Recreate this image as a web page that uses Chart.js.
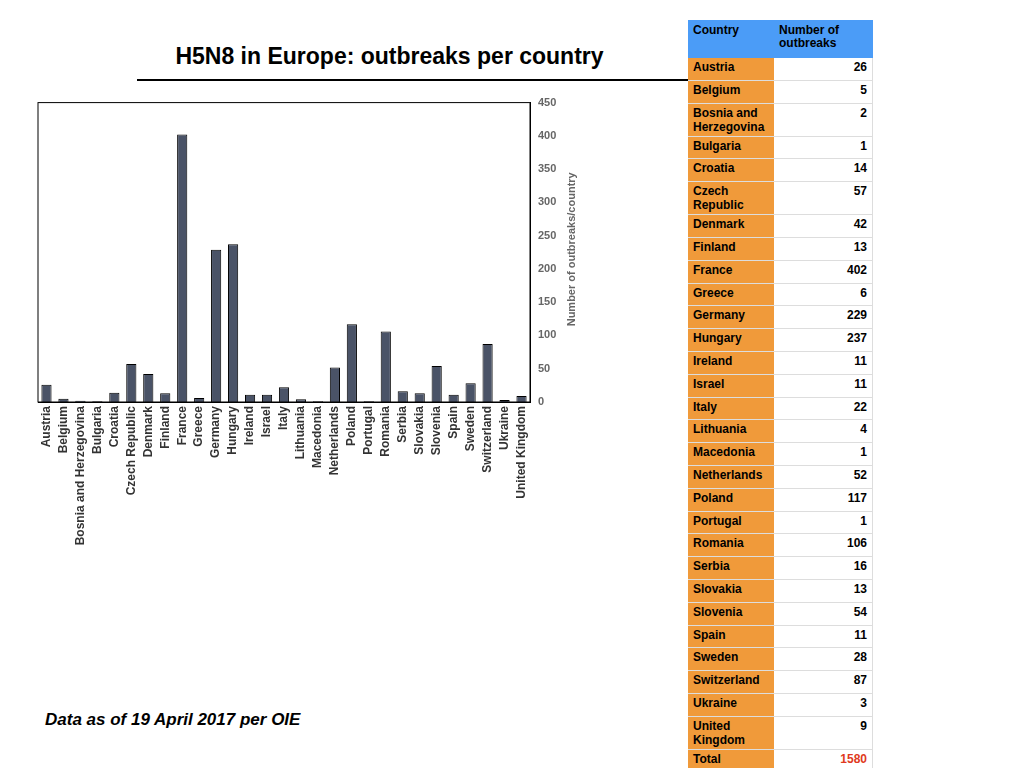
<!DOCTYPE html>
<html lang="en">
<head>
<meta charset="UTF-8">
<title>H5N8 in Europe</title>
<script src="https://cdn.jsdelivr.net/npm/chart.js"></script>
<style>
  body { margin: 0; width: 1024px; height: 768px; background: #fff; font-family: "Liberation Sans", Arial, sans-serif; position: relative; overflow: hidden; }
  h1 { position: absolute; left: 137px; width: 505px; top: 43px; margin: 0; font-size: 23px; text-align: center; }
  .rule { position: absolute; left: 137px; top: 79px; width: 555px; border-top: 2px solid #000; }
  .chart-box { position: absolute; left: 30px; top: 88px; width: 560px; height: 459px; }
  .note { position: absolute; left: 45px; top: 710px; font-size: 17px; font-weight: bold; font-style: italic; }
  table { position: absolute; left: 688px; top: 20px; border-collapse: collapse; font-size: 12px; font-weight: bold; }
  td { padding: 2px 5px; border-bottom: 1px solid #ddd; vertical-align: top; height: 17.8px; line-height: 14px; }
  td.c { background: #f09a3a; width: 76px; }
  td.v { width: 88px; text-align: right; border-right: 1px solid #ddd; }
  th { background: #4b9cf7; text-align: left; vertical-align: top; padding: 4px 5px; height: 30px; font-weight: bold; line-height: 13px; }
  .total { color: #e03a20; }
</style>
</head>
<body>
<h1>H5N8 in Europe: outbreaks per country</h1>
<div class="rule"></div>
<div class="chart-box"><canvas id="chart"></canvas></div>
<div class="note">Data as of 19 April 2017 per OIE</div>
<table id="tbl"></table>
<script>
const countries = ['Austria','Belgium','Bosnia and Herzegovina','Bulgaria','Croatia','Czech Republic','Denmark','Finland','France','Greece','Germany','Hungary','Ireland','Israel','Italy','Lithuania','Macedonia','Netherlands','Poland','Portugal','Romania','Serbia','Slovakia','Slovenia','Spain','Sweden','Switzerland','Ukraine','United Kingdom'];
const outbreaks = [26,5,2,1,14,57,42,13,402,6,229,237,11,11,22,4,1,52,117,1,106,16,13,54,11,28,87,3,9];
const yTitle = 'Number of outbreaks/country';

const tbl = document.getElementById('tbl');
let html = '<tr><th style="width:76px">Country</th><th>Number of<br>outbreaks</th></tr>';
countries.forEach((n, i) => {
  html += `<tr><td class="c">${n}</td><td class="v">${outbreaks[i]}</td></tr>`;
});
html += `<tr><td class="c">Total</td><td class="v total">${outbreaks.reduce((a, b) => a + b, 0)}</td></tr>`;
tbl.innerHTML = html;

const tickFont = { family: 'Liberation Sans', size: 12, weight: 'bold' };

new Chart(document.getElementById('chart'), {
  type: 'bar',
  data: {
    labels: countries,
    datasets: [{ data: outbreaks, backgroundColor: '#4a5367', borderColor: '#000', borderWidth: 1, barPercentage: 0.6, categoryPercentage: 1 }]
  },
  options: {
    responsive: true, maintainAspectRatio: false, animation: false,
    layout: { padding: { left: 8, top: 2, right: 0 } },
    plugins: { legend: { display: false }, tooltip: { enabled: false } },
    scales: {
      x: {
        grid: { display: false, drawTicks: false },
        border: { color: '#000' },
        afterFit: s => { s.height = 145; },
        ticks: { minRotation: 90, maxRotation: 90, autoSkip: false, padding: 4, color: '#333', font: tickFont }
      },
      y: {
        position: 'right', min: 0, max: 450,
        grid: { display: false, drawTicks: false },
        border: { color: '#000' },
        afterFit: s => { s.width = 60; },
        ticks: { stepSize: 50, color: '#666', padding: 8, font: { family: 'Liberation Sans', size: 11, weight: 'bold' } }
      }
    }
  },
  plugins: [{
    id: 'frame',
    afterDraw(c) {
      const a = c.chartArea, ctx = c.ctx;
      ctx.save(); ctx.strokeStyle = '#000'; ctx.lineWidth = 1;
      ctx.strokeRect(a.left, a.top, a.right - a.left, a.bottom - a.top);
      ctx.translate(a.right + 42, (a.top + a.bottom) / 2 - 3);
      ctx.rotate(-Math.PI / 2);
      ctx.fillStyle = '#666'; ctx.font = 'bold 11px "Liberation Sans"';
      ctx.textAlign = 'center'; ctx.textBaseline = 'middle';
      ctx.fillText(yTitle, 0, 0);
      ctx.restore();
    }
  }]
});
</script>
</body>
</html>
